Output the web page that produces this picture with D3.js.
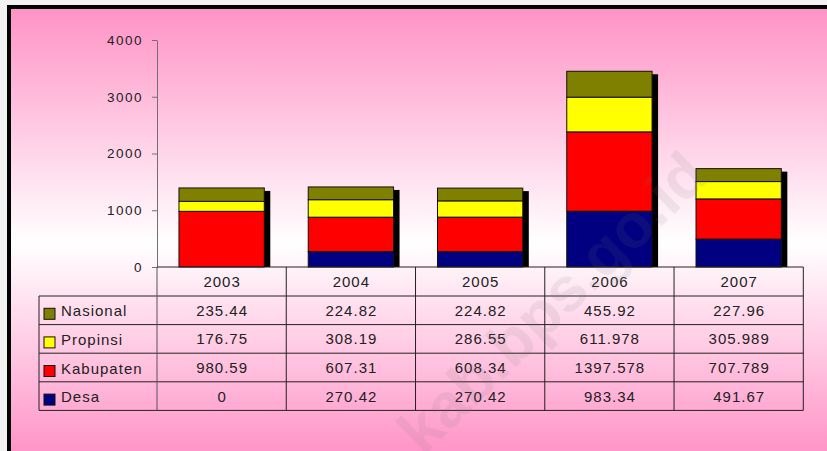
<!DOCTYPE html>
<html>
<head>
<meta charset="utf-8">
<script src="https://cdn.jsdelivr.net/npm/d3@7"></script>
<style>
  body { margin: 0; background: #f2f2f2; }
  svg { display: block; }
  text { font-family: Arial, "Liberation Sans", sans-serif; fill: #222; }
</style>
</head>
<body>
<div id="chart"></div>
<script>
let years = ["2003", "2004", "2005", "2006", "2007"]
let desa = [0, 270.42, 270.42, 983.34, 491.67]
let kabupaten = [980.59, 607.31, 608.34, 1397.578, 707.789]
let propinsi = [176.75, 308.19, 286.55, 611.978, 305.989]
let nasional = [235.44, 224.82, 224.82, 455.92, 227.96]
let seriesNames = ["Desa", "Kabupaten", "Propinsi", "Nasional"]
let seriesColors = ["#000080", "#ff0000", "#ffff00", "#808000"]
let yTicks = [0, 1000, 2000, 3000, 4000]

let width = 827,
    height = 451

let rows = years.map((y, i) => ({
  year: y, Desa: desa[i], Kabupaten: kabupaten[i], Propinsi: propinsi[i], Nasional: nasional[i]
}))

let svg = d3.select("#chart")
  .append("svg")
  .attr("width", width)
  .attr("height", height)

// pink -> white -> pink background
let grad = svg.append("defs").append("linearGradient")
  .attr("id", "bg")
  .attr("gradientUnits", "userSpaceOnUse")
  .attr("x1", 0).attr("y1", 9).attr("x2", 0).attr("y2", 451)
grad.append("stop").attr("offset", 0).attr("stop-color", "#ff93c6")
grad.append("stop").attr("offset", 0.53).attr("stop-color", "#ffffff")
grad.append("stop").attr("offset", 1).attr("stop-color", "#ff95c8")

svg.append("rect")
  .attr("x", 9).attr("y", 7)
  .attr("width", width + 20).attr("height", height + 20)
  .attr("fill", "url(#bg)")
  .attr("stroke", "#000")
  .attr("stroke-width", 4)

// scales
let plotLeft = 157, plotRight = 803.3, plotTop = 40, base = 267
let x = d3.scaleBand().domain(years).range([plotLeft, plotRight]).paddingInner(0.34).paddingOuter(0.17)
let col = d3.scaleBand().domain(years).range([plotLeft, plotRight])
let y = d3.scaleLinear().domain([0, 4000]).range([base, plotTop])
let color = d3.scaleOrdinal().domain(seriesNames).range(seriesColors)

let stack = d3.stack().keys(seriesNames)
let stacked = stack(rows)
let totals = rows.map(r => d3.sum(seriesNames, k => r[k]))

// shadows behind bars
svg.append("g")
  .selectAll("rect")
  .data(rows)
  .enter()
  .append("rect")
  .attr("x", (d, i) => x(d.year) + 6)
  .attr("y", (d, i) => y(totals[i]) + 3)
  .attr("width", x.bandwidth())
  .attr("height", (d, i) => base - y(totals[i]) - 3)
  .attr("fill", "#000")

// stacked bars
svg.append("g")
  .selectAll("g")
  .data(stacked)
  .enter()
  .append("g")
  .attr("fill", d => color(d.key))
  .selectAll("rect")
  .data(d => d)
  .enter()
  .append("rect")
  .attr("x", d => x(d.data.year))
  .attr("y", d => y(d[1]))
  .attr("width", x.bandwidth())
  .attr("height", d => y(d[0]) - y(d[1]))
  .attr("stroke", "#111")
  .attr("stroke-width", 1)

// y axis
let yAxis = svg.append("g")
  .attr("transform", "translate(" + plotLeft + ",0)")
  .call(d3.axisLeft(y).tickValues(yTicks).tickSize(5).tickSizeOuter(0).tickPadding(9).tickFormat(d3.format("d")))
yAxis.select(".domain").attr("stroke", "#707070")
yAxis.selectAll(".tick line").attr("stroke", "#707070")
yAxis.selectAll("text")
  .style("font-size", "13.5px")
  .style("letter-spacing", "1.5px")
  .attr("fill", "#222")
  .attr("font-family", null)

// data table under the chart
let rowH = 28.6
let legendLeft = 39
let tableRows = seriesNames.slice().reverse()
let tableTop = base + 29
let tableBottom = tableTop + rowH * tableRows.length
let lines = svg.append("g").attr("stroke", "#222").attr("stroke-width", 1)

// horizontal rules
lines.append("line").attr("x1", plotLeft).attr("x2", plotRight).attr("y1", base).attr("y2", base)
d3.range(tableRows.length + 1).forEach(i => {
  lines.append("line")
    .attr("x1", legendLeft).attr("x2", plotRight)
    .attr("y1", tableTop + i * rowH).attr("y2", tableTop + i * rowH)
})
// vertical rules
years.forEach(yr => {
  lines.append("line")
    .attr("x1", col(yr) + col.bandwidth()).attr("x2", col(yr) + col.bandwidth())
    .attr("y1", base).attr("y2", tableBottom)
})
lines.append("line").attr("x1", plotLeft).attr("x2", plotLeft).attr("y1", base).attr("y2", tableBottom).attr("stroke", "#555")
lines.append("line").attr("x1", legendLeft).attr("x2", legendLeft).attr("y1", tableTop).attr("y2", tableBottom)

// header (years)
svg.append("g")
  .selectAll("text")
  .data(years)
  .enter()
  .append("text")
  .attr("x", d => col(d) + col.bandwidth() / 2 + 0.5)
  .attr("y", base + 14.5)
  .attr("dy", "0.36em")
  .attr("text-anchor", "middle")
  .style("font-size", "15px")
  .style("letter-spacing", "1px")
  .text(d => d)

// table body
tableRows.forEach((key, r) => {
  let cy = tableTop + r * rowH + rowH / 2
  let g = svg.append("g")
  g.append("rect")
    .attr("x", 44).attr("y", cy - 2)
    .attr("width", 11).attr("height", 11)
    .attr("fill", color(key))
    .attr("stroke", "#111")
  g.append("text")
    .attr("x", 61).attr("y", cy)
    .attr("dy", "0.4em")
    .style("font-size", "15px")
    .style("letter-spacing", "1px")
    .text(key)
  g.selectAll("text.val")
    .data(rows)
    .enter()
    .append("text")
    .attr("class", "val")
    .attr("x", d => col(d.year) + col.bandwidth() / 2 + 0.5)
    .attr("y", cy)
    .attr("dy", "0.36em")
    .attr("text-anchor", "middle")
    .style("font-size", "15px")
    .style("letter-spacing", "1px")
    .text(d => String(d[key]))
})

// faint watermark
svg.append("text")
  .attr("transform", "translate(552,302) rotate(-44)")
  .attr("text-anchor", "middle")
  .attr("dy", "0.35em")
  .style("font-size", "62px")
  .style("font-weight", "bold")
  .style("fill", "#777")
  .style("opacity", 0.11)
  .text("kab.bps.go.id")
</script>
</body>
</html>
